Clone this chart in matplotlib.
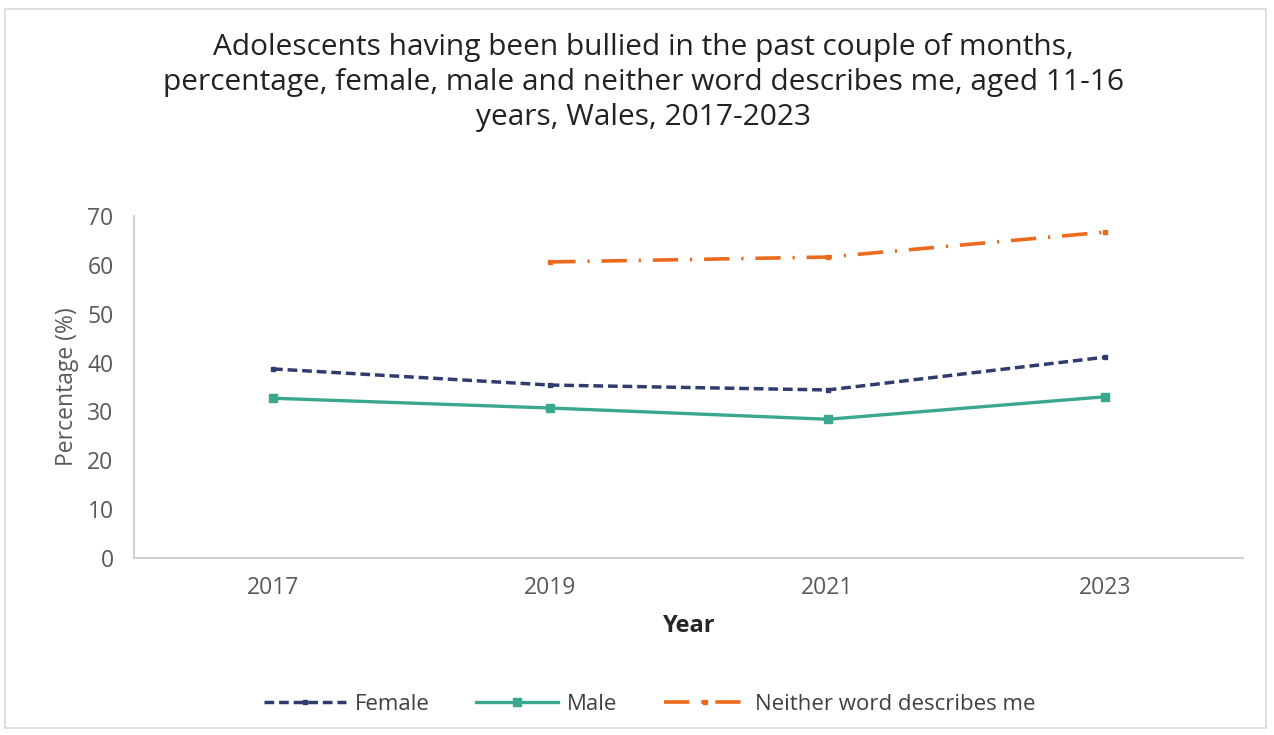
import matplotlib
matplotlib.use("Agg")
import matplotlib.pyplot as plt
from matplotlib.patches import Rectangle

years = ["2017", "2019", "2021", "2023"]
female = [38.7, 35.4, 34.4, 41.1]
male = [32.7, 30.7, 28.4, 33.0]
neither = [None, 60.6, 61.6, 66.7]
y_ticks = [0, 10, 20, 30, 40, 50, 60, 70]

title = ("Adolescents having been bullied in the past couple of months,\n"
         "percentage, female, male and neither word describes me, aged 11-16\n"
         "years, Wales, 2017-2023")

plt.rcParams["font.family"] = ["Open Sans", "DejaVu Sans"]

fig = plt.figure(figsize=(12.74, 7.35), dpi=100)
fig.patches.append(Rectangle((0.004, 0.01), 0.99, 0.978, transform=fig.transFigure,
                             fill=False, edgecolor="#D9D9D9", linewidth=1.2))

ax = fig.add_axes([0.1055, 0.2408, 0.8705, 0.4653])
x = list(range(len(years)))

ax.plot(x, female, color="#2F3C70", linestyle=(0, (2.8, 1.4)), linewidth=2.5,
        marker="s", markersize=3.5, label="Female")
ax.plot(x, male, color="#3AA88E", linestyle="-", linewidth=2.4,
        marker="s", markersize=6, label="Male")
nx = [i for i, v in enumerate(neither) if v is not None]
nv = [v for v in neither if v is not None]
ax.plot(nx, nv, color="#EC6A1E", linestyle=(0, (7, 3.3, 0.6, 3.3)), linewidth=2.6,
        marker="s", markersize=3.5, label="Neither word describes me")

ax.set_xlim(-0.5, len(years) - 0.5)
ax.set_ylim(0, 70)
ax.set_xticks(x)
ax.set_xticklabels(years)
ax.set_yticks(y_ticks)
ax.tick_params(axis="both", length=0, colors="#595959", labelsize=16.5)
ax.tick_params(axis="x", pad=13)
ax.tick_params(axis="y", pad=15)
for s in ["top", "right"]:
    ax.spines[s].set_visible(False)
for s in ["left", "bottom"]:
    ax.spines[s].set_color("#D0D0D0")
    ax.spines[s].set_linewidth(1.5)

ax.set_ylabel("Percentage (%)", color="#595959", fontsize=16.5, labelpad=6)
ax.set_xlabel("Year", color="#262626", fontsize=17, fontweight="bold", labelpad=10)

fig.text(0.505, 0.955, title, ha="center", va="top", fontsize=21.5,
         color="#222222", linespacing=1.26)

fig.legend(loc="center", bbox_to_anchor=(0.51, 0.042), ncol=3, frameon=False,
           fontsize=16, handlelength=3.7, handletextpad=0.4, columnspacing=2.1,
           labelcolor="#404040")

fig.savefig("out.png", dpi=100)
